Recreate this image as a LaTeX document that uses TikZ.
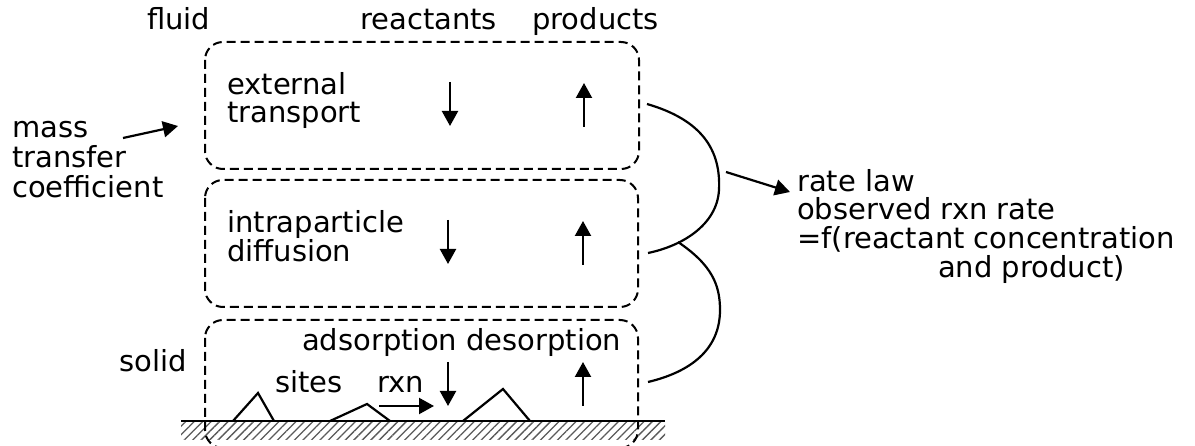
\documentclass[tikz,border=0pt]{standalone}
\usepackage{fontspec}
\setmainfont{DejaVu Sans}
\usetikzlibrary{arrows.meta,patterns.meta}
\begin{document}
\begin{tikzpicture}[x=1pt,y=-1pt,
  lbl/.style={anchor=base west,inner sep=0pt,font=\fontsize{29}{29}\selectfont},
  zone/.style={draw,line width=2pt,dash pattern=on 9pt off 5pt,rounded corners=18pt},
  flow/.style={line width=2.2pt,-{Triangle[length=15pt,width=16pt]}},
  line/.style={line width=2.2pt}]
\useasboundingbox (0,0) rectangle (1195,446);
\clip (0,0) rectangle (1195,446);
% ground
\fill[pattern={Lines[angle=45,distance=6pt,line width=1.3pt]},pattern color=black!65] (181,421) rectangle (665,440);
\draw[line] (181,421) -- (665,421);
% zones
\draw[zone] (205,42) rectangle (639,169);
\draw[zone] (205,180) rectangle (638,307);
\draw[zone] (205,320) rectangle (638,448);
% sites
\draw[line,line join=miter] (233,421) -- (258,393) -- (274,421);
\draw[line,line join=miter] (330,421) -- (367,404) -- (390,421);
\draw[line,line join=miter] (463,421) -- (503,389) -- (530,421);
% labels
\node[lbl] (fluid) at (147,30) {fluid};
\node[lbl] (react) at (360,30) {reactants};
\node[lbl] (prod) at (532,30) {products};
\node[lbl] (m1) at (12,138) {mass};
\node[lbl] (m2) at (12,168) {transfer};
\node[lbl] (m3) at (12,198) {coefficient};
\node[lbl] (e1) at (227,95) {external};
\node[lbl] (e2) at (227,123) {transport};
\node[lbl] (i1) at (227,233) {intraparticle};
\node[lbl] (i2) at (227,262) {diffusion};
\node[lbl] (ad) at (302,351) {adsorption desorption};
\node[lbl] (solid) at (119,372) {solid};
\node[lbl] (sites) at (275,393) {sites};
\node[lbl] (rxn) at (377,393) {rxn};
\node[lbl] (r1) at (797,192) {rate law};
\node[lbl] (r2) at (797,220) {observed rxn rate};
\node[lbl] (r3) at (797,249) {=f(reactant concentration};
\node[lbl] (r4) at (938,278) {and product)};
% arrows
\coordinate (ma) at (123,138); \coordinate (mb) at (178,126);
\draw[flow] (ma) -- (mb);
\coordinate (d1a) at (450,82); \coordinate (d1b) at (450,126);
\coordinate (u1a) at (584,127); \coordinate (u1b) at (584,83);
\draw[flow] (d1a) -- (d1b); \draw[flow] (u1a) -- (u1b);
\coordinate (d2a) at (448,220); \coordinate (d2b) at (448,264);
\coordinate (u2a) at (583,265); \coordinate (u2b) at (583,221);
\draw[flow] (d2a) -- (d2b); \draw[flow] (u2a) -- (u2b);
\coordinate (d3a) at (448,362); \coordinate (d3b) at (448,406);
\coordinate (u3a) at (583,406); \coordinate (u3b) at (583,362);
\draw[flow] (d3a) -- (d3b); \draw[flow] (u3a) -- (u3b);
\coordinate (xa) at (379,406); \coordinate (xb) at (434,406);
\draw[flow] (xa) -- (xb);
% braces
\coordinate (c1) at (647,104); \coordinate (c2) at (719,190); \coordinate (c3) at (648,253);
\coordinate (j) at (678,242); \coordinate (c4) at (720,310); \coordinate (c5) at (648,382);
\draw[line] (c1) .. controls (702,120) and (721,150) .. (c2) .. controls (717,225) and (682,246) .. (c3);
\draw[line] (j) .. controls (712,265) and (720,285) .. (c4) .. controls (720,350) and (690,372) .. (c5);
\coordinate (ra) at (726,172); \coordinate (rb) at (790,192);
\draw[flow] (ra) -- (rb);
\end{tikzpicture}
\end{document}
